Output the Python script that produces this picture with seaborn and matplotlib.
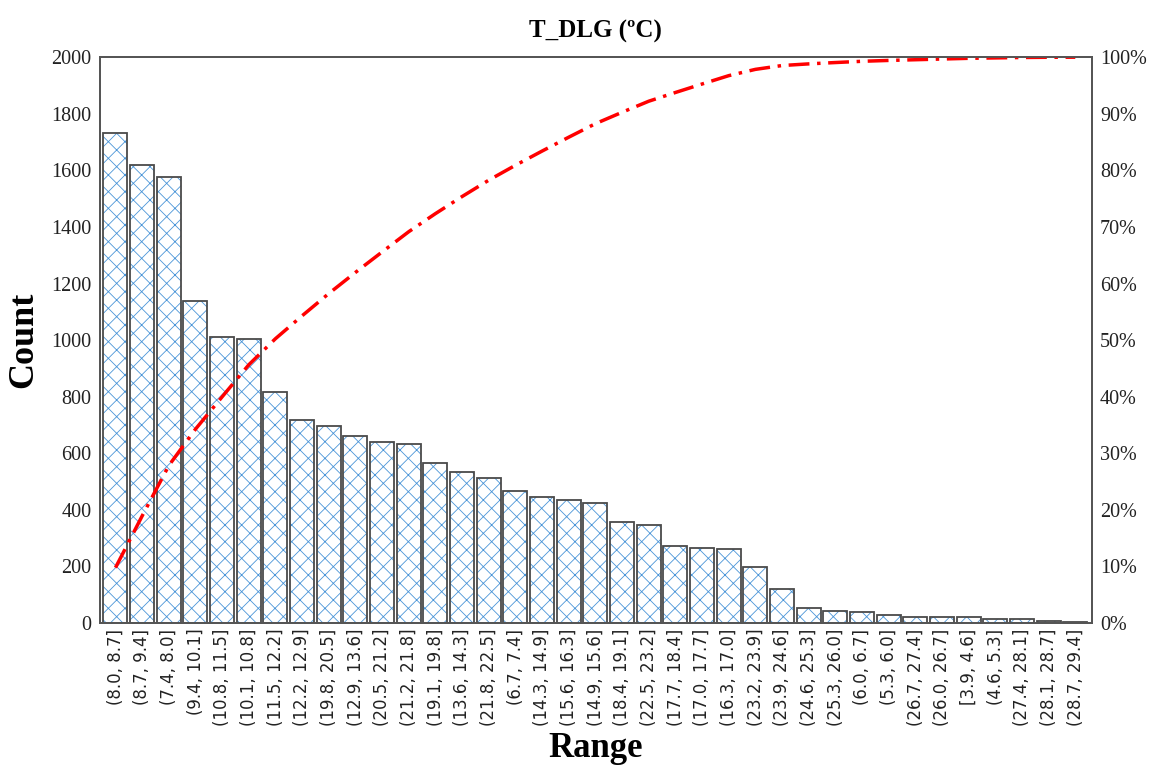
import numpy as np
import pandas as pd
import matplotlib
matplotlib.use("Agg")
import matplotlib.pyplot as plt
import seaborn as sns
from matplotlib.ticker import PercentFormatter

categories = ["(8.0, 8.7]", "(8.7, 9.4]", "(7.4, 8.0]", "(9.4, 10.1]", "(10.8, 11.5]",
              "(10.1, 10.8]", "(11.5, 12.2]", "(12.2, 12.9]", "(19.8, 20.5]", "(12.9, 13.6]",
              "(20.5, 21.2]", "(21.2, 21.8]", "(19.1, 19.8]", "(13.6, 14.3]", "(21.8, 22.5]",
              "(6.7, 7.4]", "(14.3, 14.9]", "(15.6, 16.3]", "(14.9, 15.6]", "(18.4, 19.1]",
              "(22.5, 23.2]", "(17.7, 18.4]", "(17.0, 17.7]", "(16.3, 17.0]", "(23.2, 23.9]",
              "(23.9, 24.6]", "(24.6, 25.3]", "(25.3, 26.0]", "(6.0, 6.7]", "(5.3, 6.0]",
              "(26.7, 27.4]", "(26.0, 26.7]", "[3.9, 4.6]", "(4.6, 5.3]", "(27.4, 28.1]",
              "(28.1, 28.7]", "(28.7, 29.4]"]
counts = [1733, 1618, 1577, 1140, 1012, 1003, 816, 717, 696, 661,
          641, 634, 565, 535, 512, 466, 445, 434, 423, 357,
          346, 273, 266, 261, 197, 120, 52, 42, 39, 27,
          22, 22, 22, 13, 13, 7, 2]

cum_pct = np.cumsum(counts) / np.sum(counts) * 100
df = pd.DataFrame({"Range": categories, "Count": counts, "pos": np.arange(len(counts)), "cum": cum_pct})

sns.set_style("white")
plt.rcParams["font.family"] = ["Liberation Serif", "DejaVu Serif"]
plt.rcParams["hatch.linewidth"] = 0.6
plt.rcParams["text.color"] = "black"
plt.rcParams["axes.labelcolor"] = "black"
plt.rcParams["xtick.color"] = "#222222"
plt.rcParams["ytick.color"] = "#222222"

fig = plt.figure(figsize=(11.59, 7.73), dpi=100)
ax = fig.add_axes([0.0863, 0.194, 0.8555, 0.732])

# hatch layer
sns.barplot(data=df, x="Range", y="Count", order=categories, ax=ax, width=0.9,
            color="white", edgecolor="#4a95d8", linewidth=0, hatch="xx", saturation=1)
# outline layer
sns.barplot(data=df, x="Range", y="Count", order=categories, ax=ax, width=0.9,
            fill=False, edgecolor="#4a4a4a", linewidth=1.3)

ax.set_xlim(-0.58, len(categories) - 1 + 0.61)
ax.set_ylim(0, 2000)
ax.set_yticks(np.arange(0, 2001, 200))
ax.tick_params(axis="y", labelsize=14.5, length=0, pad=6)
ax.tick_params(axis="x", length=0, pad=4)
ax.set_xticks(range(len(categories)))
ax.set_xticklabels(categories, rotation=90, fontsize=12, family=["DejaVu Sans"], color="#222222")
ax.set_xlabel("Range", fontsize=25, fontweight="bold", labelpad=4, color="black")
ax.set_ylabel("Count", fontsize=26, fontweight="bold", labelpad=8, color="black")
ax.set_title("T_DLG (ºC)", fontsize=18, fontweight="bold", pad=14, color="black")

for s in ax.spines.values():
    s.set_color("#555555")
    s.set_linewidth(1.3)

ax2 = ax.twinx()
sns.lineplot(data=df, x="pos", y="cum", ax=ax2, color="#ff0000", linewidth=2.5,
             linestyle=(0, (6, 2.2, 1, 2.2)))
ax2.set_ylim(0, 100)
ax2.set_yticks(np.arange(0, 101, 10))
ax2.yaxis.set_major_formatter(PercentFormatter(decimals=0))
ax2.tick_params(axis="y", labelsize=14.5, length=0, pad=6)
ax2.set_ylabel("")
ax2.set_xlabel("")
for s in ax2.spines.values():
    s.set_color("#555555")
    s.set_linewidth(1.3)
ax.set_xlim(-0.58, len(categories) - 1 + 0.61)

fig.savefig("out.png", dpi=100)
